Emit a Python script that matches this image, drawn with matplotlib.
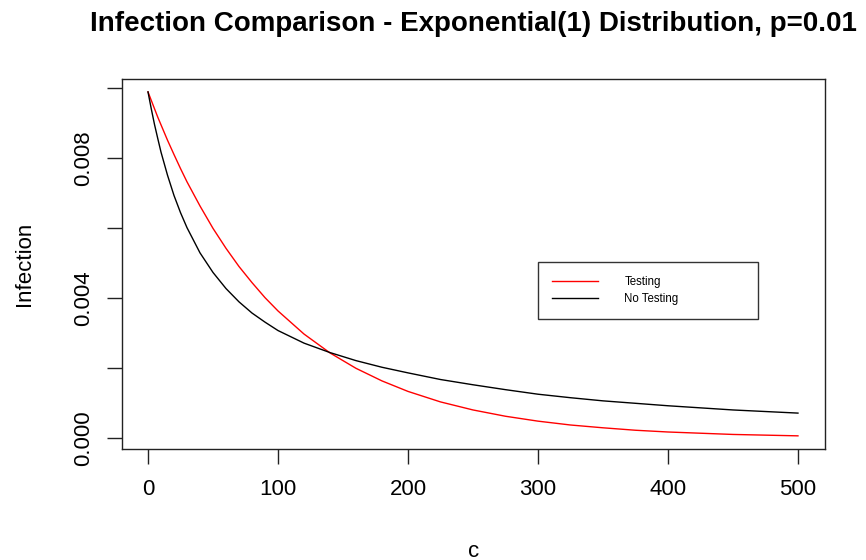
import matplotlib
matplotlib.use('Agg')
import matplotlib.pyplot as plt

plt.rcParams['font.family'] = ['Liberation Sans', 'DejaVu Sans']

# values
c_vals = [0, 2.5, 5, 7.5, 10, 15, 20, 25, 30, 40, 50, 60, 70, 80, 90, 100,
          120, 140, 160, 180, 200, 225, 250, 275, 300, 325, 350, 375, 400,
          450, 500]
testing = [0.0099, 0.00966, 0.00942, 0.00918, 0.00896, 0.00852, 0.00811,
           0.00771, 0.00733, 0.00664, 0.00600, 0.00543, 0.00491, 0.00445,
           0.00402, 0.00364, 0.00298, 0.00244, 0.00200, 0.00164, 0.00134,
           0.00104, 0.00081, 0.00063, 0.00049, 0.00038, 0.00030, 0.00023,
           0.00018, 0.00011, 0.00007]
no_testing = [0.0099, 0.00942, 0.00897, 0.00857, 0.00818, 0.00752, 0.00694,
              0.00645, 0.00602, 0.00530, 0.00474, 0.00428, 0.00390, 0.00358,
              0.00332, 0.00308, 0.00272, 0.00245, 0.00222, 0.00203, 0.00187,
              0.00168, 0.00153, 0.00139, 0.00126, 0.00116, 0.00107, 0.00100,
              0.00093, 0.00081, 0.00072]

x_ticks = [0, 100, 200, 300, 400, 500]
y_ticks = [0.000, 0.002, 0.004, 0.006, 0.008, 0.010]
y_ticklabels = ['0.000', '', '0.004', '', '0.008', '']

fig = plt.figure(figsize=(8.66, 5.6), dpi=100)
ax = fig.add_axes([122 / 866, 1 - 449 / 560, 703 / 866, 370 / 560])

ax.plot(c_vals, testing, color='#ff0000', lw=1.0, label='Testing')
ax.plot(c_vals, no_testing, color='black', lw=1.0, label='No Testing')

ax.set_xlim(-20, 520.8)
ax.set_ylim(-0.000306, 0.010269)
ax.set_xticks(x_ticks)
ax.set_yticks(y_ticks)
ax.set_yticklabels(y_ticklabels)

for s in ax.spines.values():
    s.set_linewidth(1.0)
    s.set_color('#222222')

ax.tick_params(axis='x', direction='out', length=10.8, width=1.0, pad=11,
               labelsize=16, color='#222222')
ax.tick_params(axis='y', direction='out', length=10.8, width=1.0, pad=9,
               labelsize=16, labelrotation=90, color='#222222')
for lab in ax.get_yticklabels():
    lab.set_va('center')

ax.set_xlabel('c', fontsize=16)
ax.xaxis.set_label_coords(0.5, -0.2757)
ax.xaxis.label.set_va('center')
ax.set_ylabel('Infection', fontsize=16)
ax.yaxis.set_label_coords(-0.1394, 0.5)
ax.yaxis.label.set_va('center')

ax.set_title('Infection Comparison - Exponential(1) Distribution, p=0.01',
             fontsize=20, fontweight='bold', y=1.13, pad=0)

leg = ax.legend(loc='lower left', bbox_to_anchor=(0.5917, 0.3514, 0.313, 0.1514),
                mode='expand', fontsize=8.3, frameon=True, fancybox=False,
                edgecolor='black', borderaxespad=0, borderpad=1.2,
                handlelength=4.0, handletextpad=2.3, labelspacing=0.45)
leg.get_frame().set_linewidth(1.0)

fig.savefig('out.png', dpi=100)
